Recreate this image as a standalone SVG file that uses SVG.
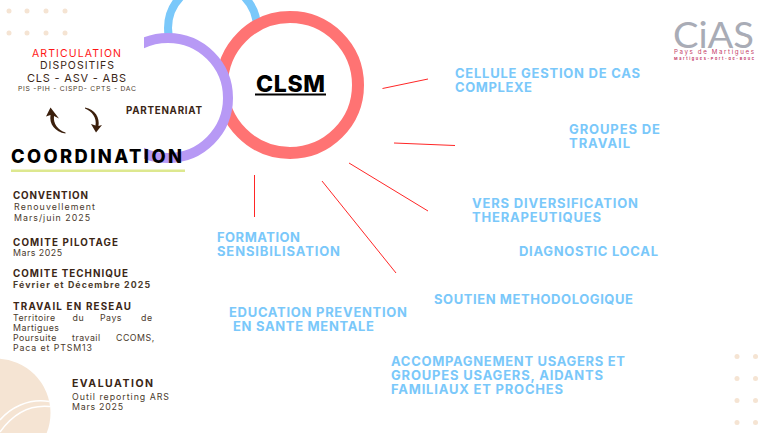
<svg xmlns="http://www.w3.org/2000/svg" width="769" height="433" viewBox="0 0 769 433">
<style>
text{font-family:Inter,Roboto,"Liberation Sans",sans-serif;white-space:pre}
.b{fill:#7ac8fa;font-weight:700;font-size:13px}
.h{fill:#3b2616;font-weight:700;font-size:9.800px}
.t{fill:#4a3a2c;font-weight:400;font-size:8.800px}
.d{fill:#f5e4d3}
.c{fill:none;stroke:#ff0000;stroke-width:1;opacity:.85}
</style>
<defs><clipPath id="cp"><rect x="144" y="0" width="120" height="180"/></clipPath></defs>
<rect width="769" height="433" fill="#fff"/>
<g id="decor">
<g class="d"><circle cx="9" cy="11" r="2.500"/><circle cx="27" cy="11" r="2.500"/><circle cx="46" cy="11" r="2.500"/><circle cx="65" cy="11" r="2.500"/><circle cx="9" cy="33" r="2.500"/><circle cx="27" cy="33" r="2.500"/><circle cx="46" cy="33" r="2.500"/><circle cx="65" cy="33" r="2.500"/>
<circle cx="737" cy="356.500" r="2.500"/><circle cx="755.500" cy="356.500" r="2.500"/><circle cx="737" cy="378.500" r="2.500"/><circle cx="755.500" cy="378.500" r="2.500"/><circle cx="737" cy="400.500" r="2.500"/><circle cx="755.500" cy="400.500" r="2.500"/><circle cx="737" cy="422.500" r="2.500"/><circle cx="755.500" cy="422.500" r="2.500"/>
<circle cx="-4" cy="413" r="54.500"/></g>
<path d="M0 420C10 408 28 398 49.500 401.500M0 432C10 418 26 404 50 406.500" fill="none" stroke="#fff" stroke-width="1.500"/>
</g>
<g id="logo">
<text x="673" y="48" font-size="37" font-weight="400" fill="#a9acb6" style="font-family:Lato,sans-serif" textLength="81" lengthAdjust="spacingAndGlyphs">CiAS</text>
<text x="674" y="53.800" font-size="6.200" fill="#c53d68" textLength="80" lengthAdjust="spacing">Pays de Martigues</text>
<text x="674" y="59.800" font-size="3.800" font-weight="700" fill="#c53d68" textLength="80" lengthAdjust="spacing">Martigues-Port-de-Bouc</text>
</g>
<g id="connectors">
<line class="c" x1="382.500" y1="88.500" x2="428" y2="79"/>
<line class="c" x1="394" y1="143" x2="455" y2="145.500"/>
<line class="c" x1="349" y1="163" x2="428" y2="211"/>
<line class="c" x1="322" y1="181" x2="396" y2="273"/>
<line class="c" x1="254.500" y1="175" x2="254.500" y2="217"/>
</g>
<g id="circle-blue"><circle cx="212.500" cy="28" r="44.500" fill="none" stroke="#7ac8fa" stroke-width="8"/></g>
<g id="node-clsm"><circle cx="290" cy="85" r="68" fill="#fff" stroke="#ff7373" stroke-width="12"/>
<text x="256" y="92" font-size="23" font-weight="800" fill="#000" textLength="69" lengthAdjust="spacing">CLSM</text>
<rect x="255" y="93.500" width="71" height="2" fill="#000"/></g>
<g id="node-partenariat"><circle cx="168" cy="98" r="60" fill="#fff" stroke="#b799f5" stroke-width="10" clip-path="url(#cp)"/>
<text x="126" y="114" font-size="9.800" font-weight="700" fill="#3b2616" textLength="76" lengthAdjust="spacing">PARTENARIAT</text></g>
<g id="node-articulation">
<text x="32" y="57" font-size="10.500" fill="#ff1616" textLength="89" lengthAdjust="spacing">ARTICULATION</text>
<text x="40" y="69" font-size="10.500" fill="#3b2616" textLength="74" lengthAdjust="spacing">DISPOSITIFS</text>
<text x="27" y="82" font-size="11" fill="#3b2616" textLength="99" lengthAdjust="spacing">CLS - ASV - ABS</text>
<text x="18" y="91" font-size="6.800" fill="#4a3a2c" textLength="118" lengthAdjust="spacing">PIS -PIH - CISPD- CPTS - DAC</text>
</g>
<g id="arrows" fill="#3b1f0c">
<path d="M65.500 133.500C55 132 49 124 50.500 115L46 116.500L50.500 107.500L59 118.500L54 116C53 124 58 130 65.500 132.500Z"/>
<path d="M85 107.500C95 109 100 118 98.500 126L102 125L96 132.500L91 124L95.500 125.500C97 118 92 111 85 108.500Z"/>
</g>
<g id="node-coordination">
<text x="11" y="163" font-size="18.300" font-weight="800" fill="#000" textLength="171" lengthAdjust="spacing">COORDINATION</text>
<rect x="11" y="169.500" width="174" height="2.500" fill="#dde88f"/>
</g>
<g id="node-convention"><text class="h" x="13" y="199" textLength="75" lengthAdjust="spacing">CONVENTION</text>
<text class="t" x="14" y="210" textLength="81" lengthAdjust="spacing">Renouvellement</text>
<text class="t" x="14" y="220.500" textLength="76" lengthAdjust="spacing">Mars/juin 2025</text></g>
<g id="node-pilotage"><text class="h" x="13" y="246" textLength="105" lengthAdjust="spacing">COMITE PILOTAGE</text>
<text class="t" x="13" y="256" textLength="49" lengthAdjust="spacing">Mars 2025</text></g>
<g id="node-technique"><text class="h" x="13" y="277" textLength="115" lengthAdjust="spacing">COMITE TECHNIQUE</text>
<text class="t" x="13" y="288" style="font-weight:700" textLength="137" lengthAdjust="spacing">Février et Décembre 2025</text></g>
<g id="node-reseau"><text class="h" x="13" y="310" textLength="118" lengthAdjust="spacing">TRAVAIL EN RESEAU</text>
<text class="t" y="320.500" letter-spacing=".5"><tspan x="13">Territoire</tspan> <tspan x="72.500">du</tspan> <tspan x="100">Pays</tspan> <tspan x="141">de</tspan></text>
<text class="t" x="13" y="330.500" textLength="46" lengthAdjust="spacing">Martigues</text>
<text class="t" y="340.500" letter-spacing=".5"><tspan x="13">Poursuite</tspan> <tspan x="72">travail</tspan> <tspan x="116">CCOMS,</tspan></text>
<text class="t" x="13" y="351" textLength="79" lengthAdjust="spacing">Paca et PTSM13</text></g>
<g id="node-evaluation"><text class="h" x="72" y="386.500" style="font-size:10.500px" textLength="81" lengthAdjust="spacing">EVALUATION</text>
<text class="t" x="72" y="399.500" textLength="97" lengthAdjust="spacing">Outil reporting ARS</text>
<text class="t" x="72" y="410" textLength="51" lengthAdjust="spacing">Mars 2025</text></g>
<g id="node-cellule"><text class="b" x="455" y="78" textLength="185" lengthAdjust="spacing">CELLULE GESTION DE CAS</text><text class="b" x="455" y="92" textLength="77" lengthAdjust="spacing">COMPLEXE</text></g>
<g id="node-groupes"><text class="b" x="569" y="134" textLength="91" lengthAdjust="spacing">GROUPES DE</text><text class="b" x="569" y="148" textLength="61" lengthAdjust="spacing">TRAVAIL</text></g>
<g id="node-vers"><text class="b" x="472" y="208" textLength="166" lengthAdjust="spacing">VERS DIVERSIFICATION</text><text class="b" x="472" y="222" textLength="129" lengthAdjust="spacing">THERAPEUTIQUES</text></g>
<g id="node-diagnostic"><text class="b" x="519" y="256" textLength="139" lengthAdjust="spacing">DIAGNOSTIC LOCAL</text></g>
<g id="node-soutien"><text class="b" x="434" y="304" textLength="199" lengthAdjust="spacing">SOUTIEN METHODOLOGIQUE</text></g>
<g id="node-formation"><text class="b" x="217" y="242" textLength="83" lengthAdjust="spacing">FORMATION</text><text class="b" x="217" y="256" textLength="123" lengthAdjust="spacing">SENSIBILISATION</text></g>
<g id="node-education"><text class="b" x="229" y="317" textLength="178" lengthAdjust="spacing">EDUCATION PREVENTION</text><text class="b" x="233" y="331" textLength="141" lengthAdjust="spacing">EN SANTE MENTALE</text></g>
<g id="node-accompagnement"><text class="b" x="391" y="366" textLength="234" lengthAdjust="spacing">ACCOMPAGNEMENT USAGERS ET</text><text class="b" x="391" y="380" textLength="212" lengthAdjust="spacing">GROUPES USAGERS, AIDANTS</text><text class="b" x="391" y="394" textLength="172" lengthAdjust="spacing">FAMILIAUX ET PROCHES</text></g>
</svg>
